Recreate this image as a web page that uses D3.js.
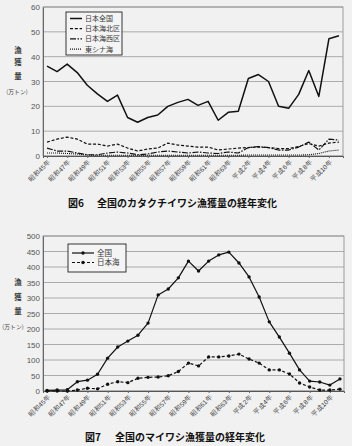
<!DOCTYPE html>
<html><head><meta charset="utf-8">
<script src="https://cdn.jsdelivr.net/npm/d3@7"></script>
<style>
body{margin:0;background:#f1f1f1;}
svg{display:block;font-family:"Noto Sans CJK JP","Noto Sans",sans-serif;}
</style></head><body>
<svg id="c" width="352" height="446"></svg>
<script>
// ---- data ----
const years=[1970,1971,1972,1973,1974,1975,1976,1977,1978,1979,1980,1981,1982,1983,1984,1985,1986,1987,1988,1989,1990,1991,1992,1993,1994,1995,1996,1997,1998,1999];
const tickYears=[1970,1972,1974,1976,1978,1980,1982,1984,1986,1988,1990,1992,1994,1996,1998];
const tickLabels=["昭和45年","昭和47年","昭和49年","昭和51年","昭和53年","昭和55年","昭和57年","昭和59年","昭和61年","昭和63年","平成2年","平成4年","平成6年","平成8年","平成10年"];

// Fig.6 カタクチイワシ (万トン)
const fig6Names=["日本全国","日本海北区","日本海西区","東シナ海"];
const anchovyAll=[36.2,34,37,33.6,28.5,25,22,24.5,15.5,13.6,15.5,16.5,20,21.6,22.8,20.4,22,14.4,17.6,18,31.2,32.8,30,20,19.2,24.8,34.4,24,47.2,48.4];
const anchovyNorth=[5.6,6.8,7.6,6.8,4.8,4.8,4,4.8,3.2,2,2.8,3.2,5.2,4.4,4,3.6,3.6,2.4,2.8,3.2,3.4,3.6,3.4,3,3,3.8,5,4,5.2,5.6];
const anchovyWest=[3.2,2,2,1.2,0.5,0.5,1.2,1.6,1.2,0.5,0.8,1.6,2,1.6,1.2,1.6,1.2,1,1.6,1.2,3.4,3.8,3.4,2.4,2.4,3.6,5.6,2.4,6.8,6.4];
const anchovyEastChina=[1.2,1.2,1,0.8,0.4,0.3,0.3,0.3,0.3,0.3,0.3,0.3,0.3,0.3,0.3,0.3,0.3,0.3,0.3,0.3,0.4,0.4,0.4,0.4,0.4,0.4,0.5,1,2,2.4];
const fig6Ticks=[0,10,20,30,40,50,60];

// Fig.7 マイワシ (万トン)
const fig7Names=["全国","日本海"];
const sardineAll=[2,3,4,30,35,54,106,142,161,180,219,310,329,365,419,387,419,439,448,413,368,303,223,174,122,68,32,29,19,39];
const sardineJapanSea=[0,0,0,3,9,7,22,30,27,41,44,45,49,63,90,81,110,110,113,119,103,90,68,68,55,26,13,3,3,6];
const fig7Ticks=[0,50,100,150,200,250,300,350,400,450,500];

const svg=d3.select("#c");
const txt="#3a3a3a";

function chart(o){
  const g=svg.append("g");
  const x=d3.scalePoint().domain(years).range([o.left,o.right]).padding(0.4);
  const y=d3.scaleLinear().domain([0,o.max]).range([o.bottom,o.top]);
  // grid
  g.selectAll("line.grid").data(o.ticks).join("line")
    .attr("x1",o.left).attr("x2",o.right).attr("y1",d=>y(d)).attr("y2",d=>y(d))
    .attr("stroke","#9a9a9a").attr("stroke-width",0.8);
  // frame
  g.append("rect").attr("x",o.left).attr("y",o.top).attr("width",o.right-o.left).attr("height",o.bottom-o.top)
    .attr("fill","none").attr("stroke","#8a8a8a").attr("stroke-width",0.8);
  // y axis
  const ya=g.append("g").attr("transform",`translate(${o.left},0)`)
    .call(d3.axisLeft(y).tickValues(o.ticks).tickSize(0).tickPadding(3));
  ya.select(".domain").attr("stroke","#666");
  ya.selectAll("text").attr("font-size",8).attr("fill","#555").attr("font-family","Liberation Sans, Arial, sans-serif");
  // x axis
  const xa=g.append("g").attr("transform",`translate(0,${o.bottom})`)
    .call(d3.axisBottom(x).tickValues(tickYears).tickSize(2).tickFormat((d,i)=>tickLabels[i]));
  xa.select(".domain").attr("stroke","#555");
  xa.selectAll(".tick line").attr("stroke","#666");
  xa.selectAll("text").attr("font-size",6.5).attr("fill",txt)
    .attr("text-anchor","end").attr("dy","0.3em").attr("dx",0)
    .attr("transform","translate(2,5) rotate(-45)").attr("y",0).attr("x",0);
  // y title
  o.titleY.forEach((c,i)=>{
    g.append("text").attr("x",18).attr("y",o.titleYpos[i]).attr("text-anchor","middle")
      .attr("font-size",7.5).attr("font-weight","bold").attr("fill",txt).text(c);
  });
  g.append("text").attr("x",o.unitX).attr("y",o.unitY).attr("text-anchor","middle")
    .attr("font-size",5.8).attr("fill",txt).text("(万トン)");
  // series
  o.series.forEach(s=>{
    const line=d3.line().x((d,i)=>x(years[i])).y(d=>y(d));
    g.append("path").datum(s.values).attr("d",line).attr("fill","none")
      .attr("stroke","#111").attr("stroke-width",s.w||1.3).attr("stroke-dasharray",s.dash||null)
      .attr("stroke-linejoin","round");
    if(s.marker){
      g.selectAll(null).data(s.values).join("circle")
        .attr("cx",(d,i)=>x(years[i])).attr("cy",d=>y(d)).attr("r",1.7).attr("fill","#111");
    }
  });
  // legend
  const L=o.legend;
  g.append("rect").attr("x",L.x).attr("y",L.y).attr("width",L.w).attr("height",L.h)
    .attr("fill","#f4f4f4").attr("stroke","#222").attr("stroke-width",0.9);
  o.series.forEach((s,i)=>{
    const yy=L.y+L.first+i*L.step;
    g.append("line").attr("x1",L.x+L.lx1).attr("x2",L.x+L.lx2).attr("y1",yy).attr("y2",yy)
      .attr("stroke","#111").attr("stroke-width",s.w||1.3).attr("stroke-dasharray",s.dash||null);
    if(s.marker) g.append("circle").attr("cx",L.x+(L.lx1+L.lx2)/2).attr("cy",yy).attr("r",1.7).attr("fill","#111");
    g.append("text").attr("x",L.x+L.tx).attr("y",yy).attr("dy","0.35em")
      .attr("font-size",L.fs).attr("fill",txt).text(s.name);
  });
  // caption
  const cap=g.append("text").attr("y",o.capY).attr("font-size",10).attr("font-weight","bold").attr("fill","#111");
  cap.append("tspan").attr("x",o.capX1).text(o.capA);
  cap.append("tspan").attr("x",o.capX2).text(o.capB);
}

chart({left:43,right:343,top:7,bottom:156,max:60,ticks:fig6Ticks,
  titleY:["漁","獲","量"],titleYpos:[53,65,79],unitX:17,unitY:94,
  series:[
    {name:fig6Names[0],values:anchovyAll,w:1.5},
    {name:fig6Names[1],values:anchovyNorth,dash:"3,1.8",w:1.2},
    {name:fig6Names[2],values:anchovyWest,dash:"6,1.5,1.5,1.5",w:1.2},
    {name:fig6Names[3],values:anchovyEastChina,dash:"1,1",w:1.1}],
  legend:{x:66,y:12,w:56,h:43,first:6.5,step:10.2,lx1:4,lx2:16,tx:19,fs:7},
  capY:207,capX1:68,capX2:97,capA:"図6",capB:"全国のカタクチイワシ漁獲量の経年変化"});

chart({left:43,right:344,top:236,bottom:391,max:500,ticks:fig7Ticks,
  titleY:["漁","獲","量"],titleYpos:[285,300,314],unitX:13,unitY:329,
  series:[
    {name:fig7Names[0],values:sardineAll,marker:true,w:1.2},
    {name:fig7Names[1],values:sardineJapanSea,marker:true,dash:"3,2",w:1.2}],
  legend:{x:68,y:244,w:58,h:28,first:9,step:9.5,lx1:4,lx2:26,tx:29,fs:7.5},
  capY:441,capX1:85,capX2:115,capA:"図7",capB:"全国のマイワシ漁獲量の経年変化"});
</script>
</body></html>
